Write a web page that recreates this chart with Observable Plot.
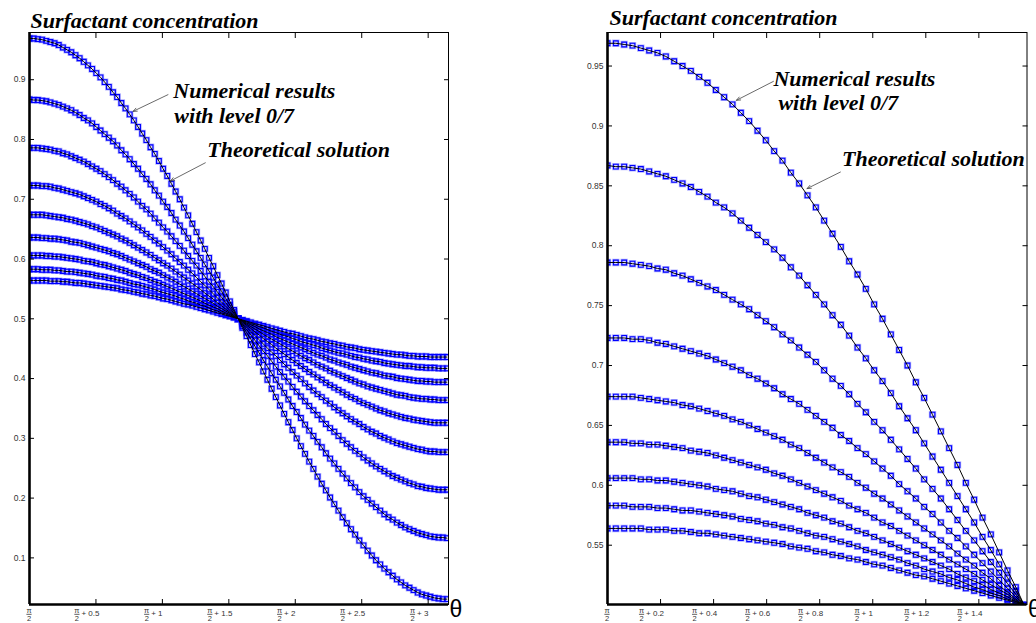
<!DOCTYPE html>
<html><head><meta charset="utf-8">
<script src="https://cdn.jsdelivr.net/npm/d3@7"></script>
<script src="https://cdn.jsdelivr.net/npm/@observablehq/plot@0.6"></script>
<style>
html,body{margin:0;padding:0;background:#fff;}
#page{position:relative;width:1036px;height:623px;overflow:hidden;background:#fff;}
#left{position:absolute;left:0;top:0;}
#right{position:absolute;left:560px;top:0;}
</style></head><body>
<div id="page"><div id="left"></div><div id="right"></div></div>
<script>
// ---- data: surfactant concentration, one array per time level ----
// sampled at theta = pi/2 + k*pi/100, k = 0..100 (marker spacing in the figure)
const s1 = [0.969,0.969,0.968,0.967,0.965,0.963,0.961,0.958,0.954,0.950,
0.946,0.941,0.936,0.930,0.924,0.918,0.911,0.904,0.896,0.888,
0.879,0.871,0.861,0.852,0.842,0.832,0.821,0.810,0.799,0.787,
0.776,0.764,0.751,0.739,0.726,0.713,0.700,0.686,0.673,0.659,
0.645,0.631,0.617,0.602,0.588,0.573,0.559,0.544,0.529,0.515,
0.500,
0.485,0.471,0.456,0.441,0.427,0.412,0.398,0.383,0.369,0.355,
0.341,0.327,0.314,0.300,0.287,0.274,0.261,0.249,0.236,0.224,
0.213,0.201,0.190,0.179,0.168,0.158,0.148,0.139,0.129,0.121,
0.112,0.104,0.096,0.089,0.082,0.076,0.070,0.064,0.059,0.054,
0.050,0.046,0.042,0.039,0.037,0.035,0.033,0.032,0.031,0.031];
const s2 = [0.867,0.866,0.866,0.865,0.864,0.862,0.860,0.858,0.855,0.852,
0.849,0.845,0.841,0.836,0.832,0.827,0.821,0.815,0.809,0.803,
0.797,0.790,0.782,0.775,0.767,0.759,0.751,0.742,0.734,0.725,
0.715,0.706,0.696,0.687,0.677,0.666,0.656,0.646,0.635,0.624,
0.613,0.602,0.591,0.580,0.569,0.557,0.546,0.534,0.523,0.512,
0.500,
0.488,0.477,0.466,0.454,0.443,0.431,0.420,0.409,0.398,0.387,
0.376,0.365,0.354,0.344,0.334,0.323,0.313,0.304,0.294,0.285,
0.275,0.266,0.258,0.249,0.241,0.233,0.225,0.218,0.210,0.203,
0.197,0.191,0.185,0.179,0.173,0.168,0.164,0.159,0.155,0.151,
0.148,0.145,0.142,0.140,0.138,0.136,0.135,0.134,0.134,0.133];
const s3 = [0.786,0.786,0.786,0.785,0.784,0.783,0.781,0.780,0.777,0.775,
0.772,0.769,0.766,0.763,0.759,0.755,0.751,0.747,0.742,0.737,
0.732,0.726,0.721,0.715,0.709,0.703,0.696,0.689,0.683,0.676,
0.668,0.661,0.653,0.646,0.638,0.630,0.622,0.614,0.605,0.597,
0.589,0.580,0.571,0.562,0.554,0.545,0.536,0.527,0.518,0.509,
0.500,
0.491,0.482,0.473,0.464,0.455,0.446,0.438,0.429,0.420,0.411,
0.403,0.395,0.386,0.378,0.370,0.362,0.354,0.347,0.339,0.332,
0.324,0.317,0.311,0.304,0.297,0.291,0.285,0.279,0.274,0.268,
0.263,0.258,0.253,0.249,0.245,0.241,0.237,0.234,0.231,0.228,
0.225,0.223,0.220,0.219,0.217,0.216,0.215,0.214,0.214,0.214];
const s4 = [0.723,0.723,0.723,0.722,0.722,0.721,0.719,0.718,0.716,0.714,
0.712,0.710,0.708,0.705,0.702,0.699,0.696,0.692,0.689,0.685,
0.681,0.676,0.672,0.668,0.663,0.658,0.653,0.648,0.642,0.637,
0.631,0.626,0.620,0.614,0.608,0.601,0.595,0.589,0.582,0.576,
0.569,0.562,0.556,0.549,0.542,0.535,0.528,0.521,0.514,0.507,
0.500,
0.493,0.486,0.479,0.472,0.465,0.458,0.451,0.444,0.438,0.431,
0.424,0.418,0.411,0.405,0.399,0.392,0.386,0.380,0.374,0.369,
0.363,0.358,0.352,0.347,0.342,0.337,0.332,0.328,0.324,0.319,
0.315,0.311,0.308,0.304,0.301,0.298,0.295,0.292,0.290,0.288,
0.286,0.284,0.282,0.281,0.279,0.278,0.278,0.277,0.277,0.277];
const s5 = [0.674,0.674,0.674,0.674,0.673,0.672,0.671,0.670,0.669,0.667,
0.666,0.664,0.662,0.660,0.658,0.655,0.653,0.650,0.647,0.644,
0.641,0.638,0.634,0.631,0.627,0.623,0.619,0.615,0.611,0.607,
0.602,0.598,0.593,0.589,0.584,0.579,0.574,0.569,0.564,0.559,
0.554,0.549,0.543,0.538,0.533,0.527,0.522,0.516,0.511,0.505,
0.500,
0.495,0.489,0.484,0.478,0.473,0.467,0.462,0.457,0.451,0.446,
0.441,0.436,0.431,0.426,0.421,0.416,0.411,0.407,0.402,0.398,
0.393,0.389,0.385,0.381,0.377,0.373,0.369,0.366,0.362,0.359,
0.356,0.353,0.350,0.347,0.345,0.342,0.340,0.338,0.336,0.334,
0.333,0.331,0.330,0.329,0.328,0.327,0.326,0.326,0.326,0.326];
const s6 = [0.636,0.636,0.636,0.635,0.635,0.634,0.634,0.633,0.632,0.631,
0.629,0.628,0.627,0.625,0.623,0.621,0.619,0.617,0.615,0.613,
0.610,0.608,0.605,0.602,0.599,0.596,0.593,0.590,0.587,0.583,
0.580,0.577,0.573,0.569,0.566,0.562,0.558,0.554,0.550,0.546,
0.542,0.538,0.534,0.530,0.526,0.521,0.517,0.513,0.509,0.504,
0.500,
0.496,0.491,0.487,0.483,0.479,0.474,0.470,0.466,0.462,0.458,
0.454,0.450,0.446,0.442,0.438,0.434,0.431,0.427,0.423,0.420,
0.417,0.413,0.410,0.407,0.404,0.401,0.398,0.395,0.392,0.390,
0.387,0.385,0.383,0.381,0.379,0.377,0.375,0.373,0.372,0.371,
0.369,0.368,0.367,0.366,0.366,0.365,0.365,0.364,0.364,0.364];
const s7 = [0.606,0.606,0.606,0.606,0.605,0.605,0.604,0.604,0.603,0.602,
0.601,0.600,0.599,0.597,0.596,0.595,0.593,0.591,0.590,0.588,
0.586,0.584,0.582,0.580,0.577,0.575,0.573,0.570,0.568,0.565,
0.562,0.560,0.557,0.554,0.551,0.548,0.545,0.542,0.539,0.536,
0.533,0.530,0.526,0.523,0.520,0.517,0.513,0.510,0.507,0.503,
0.500,
0.497,0.493,0.490,0.487,0.483,0.480,0.477,0.474,0.470,0.467,
0.464,0.461,0.458,0.455,0.452,0.449,0.446,0.443,0.440,0.438,
0.435,0.432,0.430,0.427,0.425,0.423,0.420,0.418,0.416,0.414,
0.412,0.410,0.409,0.407,0.405,0.404,0.403,0.401,0.400,0.399,
0.398,0.397,0.396,0.396,0.395,0.395,0.394,0.394,0.394,0.394];
const s8 = [0.583,0.583,0.583,0.582,0.582,0.582,0.581,0.581,0.580,0.579,
0.579,0.578,0.577,0.576,0.575,0.574,0.572,0.571,0.570,0.568,
0.567,0.565,0.564,0.562,0.560,0.558,0.557,0.555,0.553,0.551,
0.549,0.546,0.544,0.542,0.540,0.538,0.535,0.533,0.530,0.528,
0.526,0.523,0.521,0.518,0.515,0.513,0.510,0.508,0.505,0.503,
0.500,
0.497,0.495,0.492,0.490,0.487,0.485,0.482,0.479,0.477,0.474,
0.472,0.470,0.467,0.465,0.462,0.460,0.458,0.456,0.454,0.451,
0.449,0.447,0.445,0.443,0.442,0.440,0.438,0.436,0.435,0.433,
0.432,0.430,0.429,0.428,0.426,0.425,0.424,0.423,0.422,0.421,
0.421,0.420,0.419,0.419,0.418,0.418,0.418,0.417,0.417,0.417];
const s9 = [0.564,0.564,0.564,0.564,0.564,0.563,0.563,0.563,0.562,0.562,
0.561,0.560,0.560,0.559,0.558,0.557,0.556,0.555,0.554,0.553,
0.552,0.551,0.549,0.548,0.547,0.545,0.544,0.542,0.541,0.539,
0.538,0.536,0.534,0.533,0.531,0.529,0.527,0.525,0.524,0.522,
0.520,0.518,0.516,0.514,0.512,0.510,0.508,0.506,0.504,0.502,
0.500,
0.498,0.496,0.494,0.492,0.490,0.488,0.486,0.484,0.482,0.480,
0.478,0.476,0.475,0.473,0.471,0.469,0.467,0.466,0.464,0.462,
0.461,0.459,0.458,0.456,0.455,0.453,0.452,0.451,0.449,0.448,
0.447,0.446,0.445,0.444,0.443,0.442,0.441,0.440,0.440,0.439,
0.438,0.438,0.437,0.437,0.437,0.436,0.436,0.436,0.436,0.436];

// tick values (offset from pi/2) and labels
const leftXTicks = [0, 0.5, 1, 1.5, 2, 2.5, 3];
const leftXLabels = ["", "0.5", "1", "1.5", "2", "2.5", "3"];
const leftYTicks = [0.1, 0.2, 0.3, 0.4, 0.5, 0.6, 0.7, 0.8, 0.9];
const rightXTicks = [0, 0.2, 0.4, 0.6, 0.8, 1, 1.2, 1.4];
const rightXLabels = ["", "0.2", "0.4", "0.6", "0.8", "1", "1.2", "1.4"];
const rightYTicks = [0.55, 0.6, 0.65, 0.7, 0.75, 0.8, 0.85, 0.9, 0.95];
const titleText = "Surfactant concentration";
const noteLine1 = "Numerical results";
const noteLine2 = "with level 0/7";
const noteTheory = "Theoretical solution";
const axisName = "θ";

// ---- build table ----
const theta = d3.range(101).map(k => k * Math.PI / 100);
const series = [s1, s2, s3, s4, s5, s6, s7, s8, s9];
const rows = series.flatMap((s, i) => s.map((v, k) => ({d: theta[k], v, curve: i})));

const serif = "'Liberation Serif','Times New Roman',serif";
const sans = "'Liberation Sans',Arial,sans-serif";

function fracLabels(ticks, labels) {
  return (index, scales, values, dims) => {
    const g = d3.create("svg:g").attr("fill", "#333").attr("font-family", sans)
      .attr("text-anchor", "start");
    const y0 = dims.height - dims.marginBottom;
    ticks.forEach((t, i) => {
      const px = scales.x(t);
      const lab = labels[i];
      let fx = px;
      if (lab) {
        const fs = 8;
        const w = fs * (0.584 + 0.278 + [...lab].reduce((a, ch) => a + (ch === "." ? 0.278 : 0.556), 0));
        const start = px - 5 - w / 2;
        g.append("text").attr("x", start).attr("y", y0 + 11.5).attr("font-size", fs)
          .attr("text-anchor", "start").text("+ " + lab);
        fx = start - 4.5;
      }
      g.append("text").attr("x", fx).attr("y", y0 + 9).attr("font-size", 7.5)
        .attr("text-anchor", "middle").text("π");
      g.append("line").attr("x1", fx - 2.6).attr("x2", fx + 2.6).attr("y1", y0 + 10.3).attr("y2", y0 + 10.3)
        .attr("stroke", "#333").attr("stroke-width", 0.8);
      g.append("text").attr("x", fx).attr("y", y0 + 17.3).attr("font-size", 7.5)
        .attr("text-anchor", "middle").text("2");
    });
    return g.node();
  };
}

function panel(o) {
  const noteStyle = {fontFamily: serif, fontSize: 22, fontStyle: "italic", fontWeight: "bold",
    textAnchor: "start", lineAnchor: "middle", fill: "black"};
  return Plot.plot({
    width: o.width, height: o.height,
    marginLeft: o.ml, marginRight: o.mr, marginTop: o.mt, marginBottom: o.mb,
    x: {domain: o.xDomain},
    y: {domain: o.yDomain},
    style: {background: "white", overflow: "visible", fontFamily: sans},
    marks: [
      Plot.dot(o.data, {x: "d", y: "v", symbol: "square", r: 2.7, fill: "none",
        stroke: "#4040ff", strokeOpacity: 0.4, strokeWidth: 2.6, clip: true}),
      Plot.dot(o.data, {x: "d", y: "v", symbol: "square", r: 2.7, fill: "none",
        stroke: "#0000ff", strokeWidth: 1.1, clip: true}),
      Plot.line(o.data, {x: "d", y: "v", z: "curve", stroke: "black", strokeWidth: 1, clip: true}),
      Plot.frame({stroke: "black", strokeWidth: 1}),
      Plot.ruleX([o.xDomain[0]], {stroke: "black", strokeWidth: 2.6}),
      Plot.ruleY([o.yDomain[0]], {stroke: "black", strokeWidth: 2.6}),
      Plot.axisY({anchor: "left", ticks: o.yTicks, tickSize: 0, tickPadding: 4, tickFormat: String,
        label: null, fontSize: 8.5, fill: "#333"}),
      Plot.axisY({anchor: "left", ticks: o.yTicks, tickSize: 5, dx: 5, tickFormat: () => "", label: null}),
      Plot.axisY({anchor: "right", ticks: o.yTicks, tickSize: 5, dx: -5, tickFormat: () => "", label: null}),
      Plot.axisX({anchor: "bottom", ticks: o.xTicks, tickSize: 5, dy: -5, tickFormat: () => "", label: null}),
      Plot.axisX({anchor: "top", ticks: o.xTicks, tickSize: 5, dy: 5, tickFormat: () => "", label: null}),
      fracLabels(o.xTicks, o.xLabels),
      Plot.text([titleText], {frameAnchor: "top-left", text: d => d, dx: o.titleDx, dy: o.titleDy,
        ...noteStyle}),
      Plot.text([axisName], {frameAnchor: "bottom-right", text: d => d, dx: 1, dy: 5,
        textAnchor: "start", lineAnchor: "middle", fontSize: 23, fontFamily: sans, fill: "black"}),
      Plot.text(o.notes, {x: "d", y: "v", text: "t", ...noteStyle}),
      Plot.arrow(o.arrows, {x1: "x1", y1: "y1", x2: "x2", y2: "y2", stroke: "#444",
        strokeWidth: 0.8, headLength: 8, headAngle: 45})
    ]
  });
}

const left = panel({
  width: 520, height: 623, ml: 29, mr: 72, mt: 32, mb: 19,
  xDomain: [0, 3.153], yDomain: [0.022, 0.979],
  xTicks: leftXTicks, xLabels: leftXLabels, yTicks: leftYTicks,
  data: rows, titleDx: 1, titleDy: -12,
  notes: [
    {d: 1.082, v: 0.882, t: noteLine1},
    {d: 1.09, v: 0.839, t: noteLine2},
    {d: 1.338, v: 0.782, t: noteTheory}
  ],
  arrows: [
    {x1: 1.042, y1: 0.875, x2: 0.779, y2: 0.847},
    {x1: 1.323, y1: 0.761, x2: 1.06, y2: 0.7305}
  ]
});
document.getElementById("left").appendChild(left);

const right = panel({
  width: 476, height: 623, ml: 47, mr: 9.5, mt: 32, mb: 19,
  xDomain: [0, 1.5815], yDomain: [0.5005, 0.978],
  xTicks: rightXTicks, xLabels: rightXLabels, yTicks: rightYTicks,
  data: rows.filter(r => r.d <= 1.5815), titleDx: 2, titleDy: -15,
  notes: [
    {d: 0.6255, v: 0.9389, t: noteLine1},
    {d: 0.6443, v: 0.9189, t: noteLine2},
    {d: 0.8843, v: 0.8721, t: noteTheory}
  ],
  arrows: [
    {x1: 0.6255, y1: 0.9372, x2: 0.486, y2: 0.9214},
    {x1: 0.878, y1: 0.8615, x2: 0.7524, y2: 0.8477}
  ]
});
document.getElementById("right").appendChild(right);
</script>
</body></html>
